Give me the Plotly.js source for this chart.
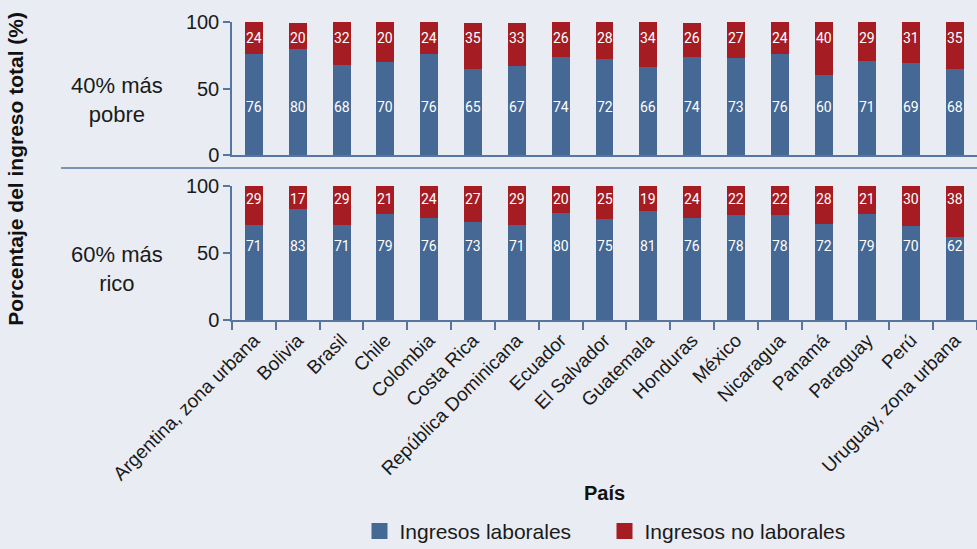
<!DOCTYPE html>
<html>
<head>
<meta charset="utf-8">
<script src="https://cdn.plot.ly/plotly-3.0.1.min.js"></script>
<style>
  html, body { margin: 0; padding: 0; background: #E9ECF2; }
  #chart { width: 977px; height: 549px; }
</style>
</head>
<body>
<div id="chart"></div>
<script>
var paises = ["Argentina, zona urbana", "Bolivia", "Brasil", "Chile", "Colombia", "Costa Rica",
  "República Dominicana", "Ecuador", "El Salvador", "Guatemala", "Honduras", "México",
  "Nicaragua", "Panamá", "Paraguay", "Perú", "Uruguay, zona urbana"];

// 40% más pobre: printed labels and drawn bar heights
var pobreLabEtiq = [76, 80, 68, 70, 76, 65, 67, 74, 72, 66, 74, 73, 76, 60, 71, 69, 68];
var pobreNoLabEtiq = [24, 20, 32, 20, 24, 35, 33, 26, 28, 34, 26, 27, 24, 40, 29, 31, 35];
var pobreLab = [76, 80, 68, 70, 76, 65, 67, 74, 72, 66, 74, 73, 76, 60, 71, 69, 65];
var pobreNoLab = [24, 19, 32, 30, 24, 34, 32, 26, 28, 34, 25, 27, 24, 40, 29, 31, 35];

// 60% más rico
var ricoLab = [71, 83, 71, 79, 76, 73, 71, 80, 75, 81, 76, 78, 78, 72, 79, 70, 62];
var ricoNoLab = [29, 17, 29, 21, 24, 27, 29, 20, 25, 19, 24, 22, 22, 28, 21, 30, 38];

var series = ["Ingresos laborales", "Ingresos no laborales"];

var azul = "#466894";
var rojo = "#A51C22";
var ejeColor = "#5676A0";
var fuente = "Arial, Liberation Sans, sans-serif";

var data = [
  { type: "bar", x: paises, y: pobreLab, name: series[0], marker: { color: azul },
    xaxis: "x", yaxis: "y", showlegend: false, hoverinfo: "x+y" },
  { type: "bar", x: paises, y: pobreNoLab, name: series[1], marker: { color: rojo },
    xaxis: "x", yaxis: "y", showlegend: false, hoverinfo: "x+y" },
  { type: "bar", x: paises, y: ricoLab, name: series[0], marker: { color: azul },
    xaxis: "x2", yaxis: "y2", showlegend: false, hoverinfo: "x+y" },
  { type: "bar", x: paises, y: ricoNoLab, name: series[1], marker: { color: rojo },
    xaxis: "x2", yaxis: "y2", showlegend: false, hoverinfo: "x+y" },
  // legend entries with larger square swatches
  { type: "scatter", mode: "markers", x: [null], y: [null], name: series[0],
    marker: { symbol: "square", size: 16, color: azul }, xaxis: "x2", yaxis: "y2" },
  { type: "scatter", mode: "markers", x: [null], y: [null], name: series[1],
    marker: { symbol: "square", size: 16, color: rojo }, xaxis: "x2", yaxis: "y2" }
];

var etiquetaFont = { family: "Roboto, Arial, sans-serif", size: 14, color: "white" };
var anotaciones = [];
function agregarEtiquetas(valores, yref, ypos) {
  for (var i = 0; i < paises.length; i++) {
    anotaciones.push({ x: paises[i], y: ypos, xref: yref === "y" ? "x" : "x2", yref: yref,
      text: String(valores[i]), showarrow: false, font: etiquetaFont });
  }
}
agregarEtiquetas(pobreNoLabEtiq, "y", 88);
agregarEtiquetas(pobreLabEtiq, "y", 36);
agregarEtiquetas(ricoNoLab, "y2", 90);
agregarEtiquetas(ricoLab, "y2", 55);

var textoFont = { family: fuente, size: 22, color: "#1a1a1a" };
anotaciones.push(
  { xref: "paper", yref: "paper", x: -0.155, y: 0.738, xanchor: "center", yanchor: "middle",
    text: "40% más<br>pobre", showarrow: false, font: textoFont, align: "center" },
  { xref: "paper", yref: "paper", x: -0.155, y: 0.17, xanchor: "center", yanchor: "middle",
    text: "60% más<br>rico", showarrow: false, font: textoFont, align: "center" },
  { xref: "paper", yref: "paper", x: -0.29, y: 0.507, xanchor: "center", yanchor: "middle",
    text: "<b>Porcentaje del ingreso total (%)</b>", textangle: -90, showarrow: false,
    font: { family: fuente, size: 21, color: "#111" } },
  { xref: "paper", yref: "paper", x: 0.5, y: -0.58, xanchor: "center", yanchor: "middle",
    text: "<b>País</b>", showarrow: false, font: { family: fuente, size: 20, color: "#111" } }
);

var ejeY = {
  range: [0, 100], tickvals: [0, 50, 100], showgrid: false, zeroline: false,
  showline: true, linecolor: ejeColor, linewidth: 1.5,
  ticks: "outside", ticklen: 7, tickcolor: ejeColor, tickwidth: 1.5,
  tickfont: { family: fuente, size: 20, color: "#1a1a1a" }
};

var layout = {
  width: 977, height: 549,
  margin: { l: 232, r: 0, t: 22, b: 229 },
  paper_bgcolor: "#E9ECF2", plot_bgcolor: "#E9ECF2",
  barmode: "stack", bargap: 0.59,
  showlegend: true,
  legend: { orientation: "h", xref: "paper", yref: "container", x: 0.5, xanchor: "center",
    y: 0.032, yanchor: "middle", entrywidth: 200, entrywidthmode: "pixels",
    font: { family: fuente, size: 21, color: "#1a1a1a" },
    traceorder: "normal", bgcolor: "rgba(0,0,0,0)" },
  xaxis: { anchor: "y", showticklabels: false, showgrid: false, zeroline: false,
    showline: true, linecolor: ejeColor, linewidth: 1.5, ticks: "" },
  yaxis: Object.assign({ domain: [0.5537, 1], anchor: "x" }, ejeY),
  xaxis2: { anchor: "y2", matches: "x", showgrid: false, zeroline: false,
    showline: true, linecolor: ejeColor, linewidth: 1.5,
    ticks: "outside", tickson: "boundaries", ticklen: 8, tickcolor: ejeColor, tickwidth: 1.5,
    tickangle: -45, tickfont: { family: fuente, size: 19, color: "#1a1a1a" } },
  yaxis2: Object.assign({ domain: [0, 0.4497], anchor: "x2" }, ejeY),
  shapes: [
    { type: "line", xref: "paper", yref: "paper", x0: -0.2295, x1: 1, y0: 0.51, y1: 0.51,
      line: { color: ejeColor, width: 1.5 } }
  ],
  annotations: anotaciones
};

Plotly.newPlot("chart", data, layout, { displayModeBar: false });
</script>
</body>
</html>
